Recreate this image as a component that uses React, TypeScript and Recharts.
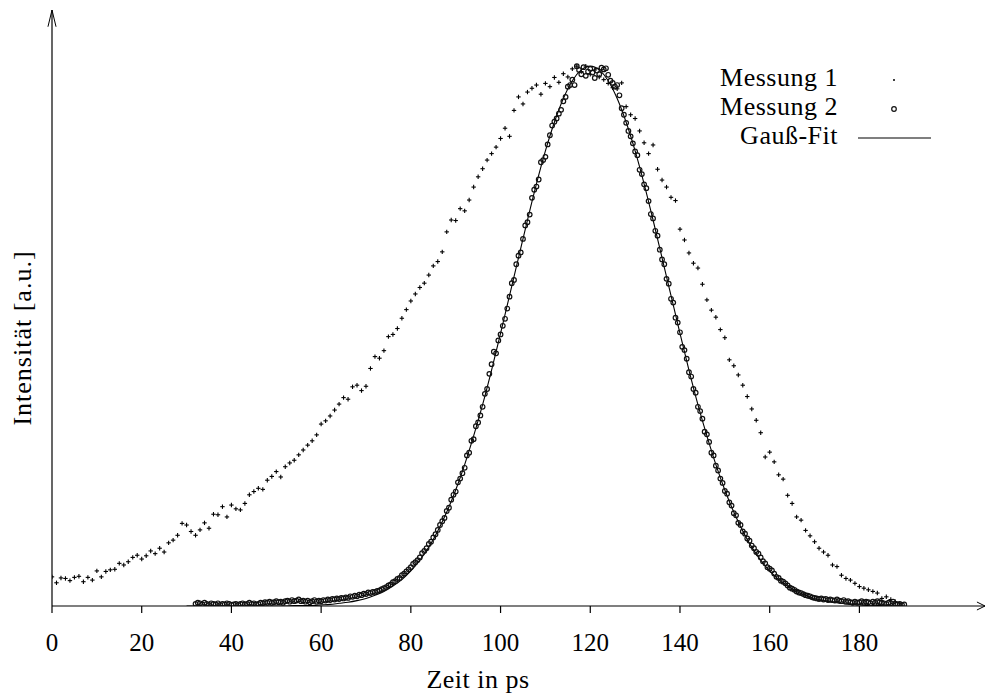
import React from "react";
import { ComposedChart, Scatter, Line, XAxis, YAxis, ReferenceLine } from "recharts";

const FONT = '"Liberation Serif", "DejaVu Serif", "Noto Serif", Tinos, "Times New Roman", FreeSerif, serif';

const xTicks = [0, 20, 40, 60, 80, 100, 120, 140, 160, 180];

// Messung 1: one sample per ps from 0 ps
const m1Start = 0;
const m1Step = 1;
const m1Values = [
  0.054, 0.043, 0.052, 0.051, 0.047, 0.053, 0.055, 0.045, 0.053, 0.048,
  0.065, 0.054, 0.064, 0.067, 0.068, 0.079, 0.076, 0.082, 0.09, 0.094,
  0.087, 0.093, 0.102, 0.097, 0.107, 0.1, 0.117, 0.122, 0.131, 0.153,
  0.15, 0.138, 0.131, 0.141, 0.154, 0.144, 0.17, 0.169, 0.184, 0.165,
  0.187, 0.18, 0.178, 0.19, 0.206, 0.212, 0.218, 0.216, 0.233, 0.24,
  0.249, 0.239, 0.258, 0.265, 0.27, 0.28, 0.289, 0.298, 0.306, 0.317,
  0.337, 0.343, 0.352, 0.363, 0.374, 0.386, 0.383, 0.406, 0.409, 0.399,
  0.407, 0.44, 0.462, 0.459, 0.473, 0.499, 0.503, 0.514, 0.533, 0.549,
  0.565, 0.578, 0.59, 0.598, 0.613, 0.63, 0.638, 0.656, 0.693, 0.715,
  0.714, 0.736, 0.732, 0.752, 0.776, 0.795, 0.81, 0.826, 0.838, 0.85,
  0.866, 0.885, 0.87, 0.918, 0.943, 0.93, 0.952, 0.959, 0.965, 0.948,
  0.968, 0.962, 0.979, 0.97, 0.986, 0.98, 0.995, 1.0, 0.99, 1.0,
  0.985, 0.993, 0.98, 0.975, 0.968, 0.96, 0.958, 0.969, 0.925, 0.91,
  0.903, 0.88, 0.858, 0.838, 0.854, 0.809, 0.789, 0.776, 0.757, 0.751,
  0.698, 0.678, 0.654, 0.635, 0.626, 0.596, 0.567, 0.548, 0.535, 0.512,
  0.497, 0.456, 0.445, 0.428, 0.409, 0.388, 0.365, 0.344, 0.321, 0.276,
  0.285, 0.267, 0.243, 0.235, 0.205, 0.19, 0.165, 0.159, 0.14, 0.13,
  0.119, 0.107, 0.1, 0.094, 0.076, 0.073, 0.057, 0.051, 0.048, 0.042,
  0.036, 0.033, 0.03, 0.027, 0.024, 0.014, 0.017, 0.012, 0.008, 0.004,
];

// Messung 2: one sample every 0.5 ps from 32 ps
const m2Start = 32;
const m2Step = 0.5;
const m2Values = [
  0.004, 0.006, 0.005, 0.003, 0.006, 0.004, 0.002, 0.005, 0.004, 0.003,
  0.005, 0.002, 0.004, 0.003, 0.005, 0.004, 0.002, 0.003, 0.004, 0.002,
  0.004, 0.005, 0.003, 0.004, 0.006, 0.004, 0.005, 0.003, 0.004, 0.006,
  0.005, 0.007, 0.006, 0.008, 0.006, 0.007, 0.009, 0.007, 0.008, 0.006,
  0.009, 0.01, 0.008, 0.011, 0.009, 0.01, 0.012, 0.009, 0.01, 0.008,
  0.01, 0.007, 0.009, 0.011, 0.008, 0.01, 0.009, 0.011, 0.01, 0.012,
  0.011, 0.013, 0.012, 0.014, 0.013, 0.015, 0.014, 0.016, 0.015, 0.018,
  0.017, 0.019, 0.018, 0.021, 0.02, 0.023, 0.022, 0.025, 0.024, 0.026,
  0.026, 0.028, 0.029, 0.031, 0.033, 0.035, 0.038, 0.04, 0.044, 0.046,
  0.05, 0.052, 0.057, 0.06, 0.064, 0.068, 0.072, 0.078, 0.081, 0.085,
  0.09, 0.098, 0.102, 0.107, 0.115, 0.119, 0.127, 0.133, 0.141, 0.15,
  0.157, 0.163, 0.176, 0.182, 0.197, 0.206, 0.212, 0.229, 0.236, 0.246,
  0.256, 0.279, 0.284, 0.306, 0.309, 0.333, 0.34, 0.353, 0.369, 0.393,
  0.402, 0.43, 0.448, 0.471, 0.468, 0.492, 0.503, 0.519, 0.532, 0.551,
  0.573, 0.598, 0.604, 0.633, 0.649, 0.655, 0.68, 0.705, 0.711, 0.725,
  0.756, 0.771, 0.777, 0.79, 0.822, 0.826, 0.832, 0.855, 0.872, 0.89,
  0.897, 0.903, 0.912, 0.919, 0.935, 0.943, 0.962, 0.965, 0.975, 0.965,
  1.0, 0.993, 0.985, 0.998, 0.982, 0.99, 0.995, 0.988, 0.978, 0.992,
  0.985, 0.997, 0.994, 0.996, 0.984, 0.973, 0.969, 0.962, 0.965, 0.946,
  0.922, 0.91, 0.895, 0.88, 0.87, 0.857, 0.842, 0.835, 0.808, 0.8,
  0.781, 0.774, 0.75, 0.726, 0.718, 0.695, 0.686, 0.66, 0.642, 0.633,
  0.606, 0.597, 0.569, 0.562, 0.534, 0.525, 0.507, 0.48, 0.474, 0.458,
  0.433, 0.425, 0.402, 0.395, 0.369, 0.361, 0.347, 0.323, 0.318, 0.304,
  0.284, 0.279, 0.26, 0.251, 0.236, 0.228, 0.213, 0.208, 0.192, 0.186,
  0.172, 0.168, 0.154, 0.15, 0.138, 0.134, 0.125, 0.121, 0.112, 0.107,
  0.1, 0.097, 0.09, 0.083, 0.079, 0.072, 0.069, 0.066, 0.06, 0.054,
  0.052, 0.047, 0.045, 0.042, 0.038, 0.034, 0.032, 0.03, 0.027, 0.025,
  0.024, 0.022, 0.02, 0.019, 0.018, 0.016, 0.015, 0.014, 0.013, 0.014,
  0.012, 0.013, 0.011, 0.012, 0.011, 0.01, 0.012, 0.01, 0.009, 0.011,
  0.008, 0.009, 0.007, 0.006, 0.008, 0.006, 0.007, 0.009, 0.006, 0.008,
  0.007, 0.005, 0.008, 0.006, 0.009, 0.007, 0.006, 0.005, 0.004, 0.006,
  0.005, 0.008, 0.004, 0.003, 0.004, 0.002, 0.003,
];

// Gauß-Fit, read every 2 ps from 30 ps
const fitStart = 30;
const fitStep = 2;
const fitValues = [
  0, 0, 0, 0, 0, 0, 0, 0, 0, 0, 0, 0,
  0.001, 0.001, 0.001, 0.002, 0.003, 0.005, 0.007, 0.01, 0.014, 0.02,
  0.027, 0.037, 0.049, 0.065, 0.085, 0.109, 0.139, 0.174, 0.215, 0.262,
  0.315, 0.373, 0.437, 0.505, 0.575, 0.645, 0.715, 0.782, 0.843, 0.896,
  0.94, 0.973, 0.993, 1.0, 0.993, 0.973, 0.94, 0.896, 0.843, 0.782,
  0.715, 0.645, 0.575, 0.505, 0.437, 0.373, 0.315, 0.262, 0.215, 0.174,
  0.139, 0.109, 0.085, 0.065, 0.049, 0.037, 0.027, 0.02, 0.014, 0.01,
  0.007, 0.005, 0.003, 0.002, 0.001, 0.001, 0.001, 0, 0,
];

const toPoints = (values: number[], start: number, step: number) =>
  values.map((y, i) => ({ x: start + i * step, y }));

const m1Data = toPoints(m1Values, m1Start, m1Step);
const m2Data = toPoints(m2Values, m2Start, m2Step);
const fitData = toPoints(fitValues, fitStart, fitStep);

const Cross = (p: any) => (
  <g>
    <line x1={p.cx - 2.2} x2={p.cx + 2.2} y1={p.cy} y2={p.cy} stroke="#000" strokeWidth={1.1} />
    <line x1={p.cx} x2={p.cx} y1={p.cy - 2.2} y2={p.cy + 2.2} stroke="#000" strokeWidth={1.1} />
  </g>
);

const Ring = (p: any) => (
  <circle cx={p.cx} cy={p.cy} r={2.3} fill="none" stroke="#111" strokeWidth={1.2} />
);

const txt = { fontFamily: FONT, fontSize: 26, fill: "#000", letterSpacing: 0.5 };

export default function App() {
  return (
    <div style={{ position: "absolute", left: 0, top: 0, width: 987, height: 700, background: "#fff" }}>
      <ComposedChart width={987} height={700} margin={{ top: 10, right: 2, bottom: 0, left: 52 }}>
        <XAxis
          type="number"
          dataKey="x"
          domain={[0, 208]}
          ticks={xTicks}
          allowDataOverflow
          height={94}
          tickSize={7}
          tickMargin={20}
          axisLine={{ stroke: "#000", strokeWidth: 1.2 }}
          tickLine={{ stroke: "#000", strokeWidth: 1.2 }}
          tick={{ fontFamily: FONT, fontSize: 25, fill: "#000" }}
        />
        <YAxis type="number" dataKey="y" domain={[0, 1.104]} allowDataOverflow hide />
        {/* y axis line and arrow heads */}
        <ReferenceLine segment={[{ x: 0, y: 0 }, { x: 0, y: 1.104 }]} stroke="#000" strokeWidth={1.2} ifOverflow="visible" />
        <ReferenceLine segment={[{ x: 208, y: 0 }, { x: 206.2, y: 0.0074 }]} stroke="#000" ifOverflow="visible" />
        <ReferenceLine segment={[{ x: 208, y: 0 }, { x: 206.2, y: -0.0074 }]} stroke="#000" ifOverflow="visible" />
        <ReferenceLine segment={[{ x: 0, y: 1.104 }, { x: -0.9, y: 1.073 }]} stroke="#000" ifOverflow="visible" />
        <ReferenceLine segment={[{ x: 0, y: 1.104 }, { x: 0.9, y: 1.073 }]} stroke="#000" ifOverflow="visible" />
        <Line
          data={fitData}
          dataKey="y"
          type="monotone"
          stroke="#000"
          strokeWidth={1.1}
          dot={false}
          activeDot={false}
          isAnimationActive={false}
        />
        <Scatter data={m1Data} dataKey="y" shape={Cross} isAnimationActive={false} />
        <Scatter data={m2Data} dataKey="y" shape={Ring} isAnimationActive={false} />
      </ComposedChart>
      <svg
        width={987}
        height={700}
        style={{ position: "absolute", left: 0, top: 0, pointerEvents: "none" }}
      >
        <text x={478} y={688} textAnchor="middle" {...txt}>Zeit in ps</text>
        <text transform="translate(31,338) rotate(-90)" textAnchor="middle" {...txt} letterSpacing={1}>Intensität [a.u.]</text>
        <text x={838} y={86} textAnchor="end" {...txt}>Messung 1</text>
        <text x={838} y={115} textAnchor="end" {...txt}>Messung 2</text>
        <text x={838} y={144} textAnchor="end" {...txt}>Gauß-Fit</text>
        <circle cx={894} cy={80} r={1} fill="#000" />
        <Ring cx={894} cy={109} />
        <line x1={858} x2={931} y1={138} y2={138} stroke="#000" strokeWidth={1.1} />
      </svg>
    </div>
  );
}
